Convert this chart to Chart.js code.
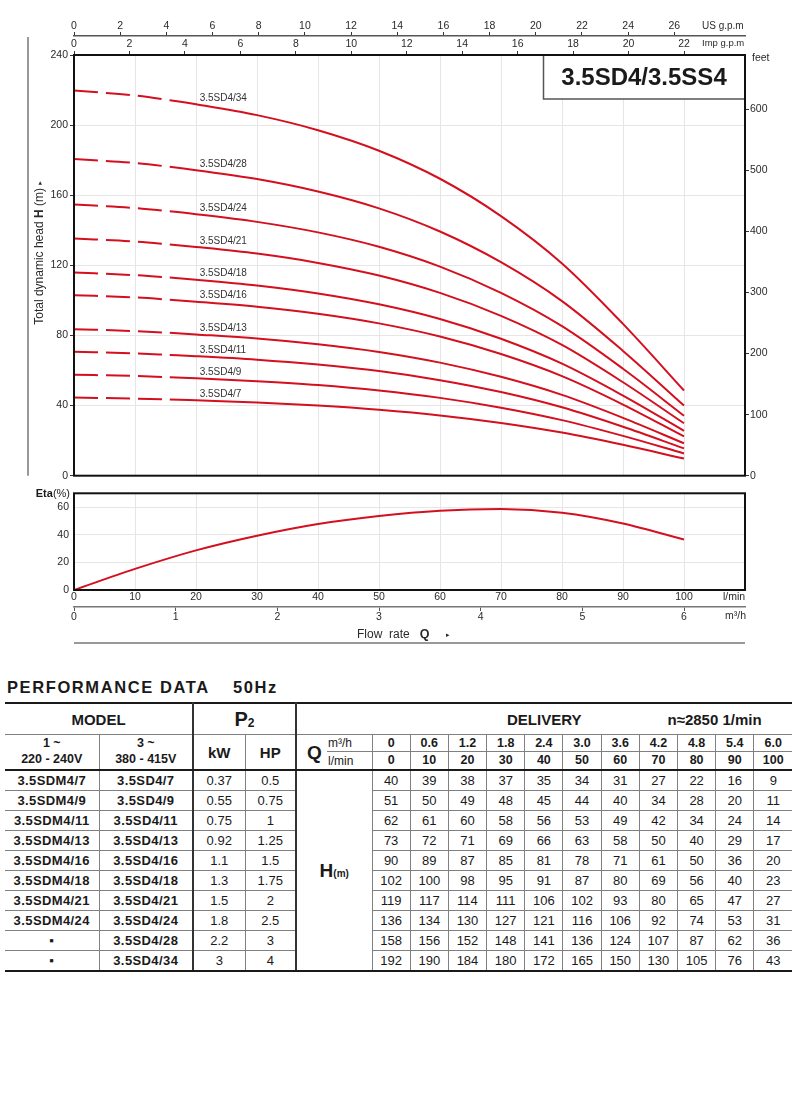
<!DOCTYPE html>
<html>
<head>
<meta charset="utf-8">
<title>3.5SD4 / 3.5SS4 performance curves</title>
<script src="https://cdn.jsdelivr.net/npm/chart.js@4.4.1/dist/chart.umd.min.js"></script>
<style>
  html, body { margin: 0; padding: 0; background: #fff; }
  #page { position: relative; width: 800px; height: 1094px; overflow: hidden;
          font-family: "Liberation Sans", Arial, sans-serif; color: #1a1a1a; }
  #headWrap { position: absolute; left: 0; top: 0; width: 800px; height: 484px; }
  #etaWrap { position: absolute; left: 0; top: 482px; width: 800px; height: 170px; }
  .perf-title { position: absolute; top: 679px; font-weight: bold; font-size: 16.5px;
                letter-spacing: 1.6px; line-height: 1; white-space: nowrap; }
  #perf { position: absolute; left: 5px; top: 702px; width: 787px; border-collapse: collapse;
          table-layout: fixed; color: #1a1a1a; }
  #perf td { border: 1px solid #808080; padding: 0; text-align: center; vertical-align: middle;
             white-space: nowrap; overflow: hidden; font-size: 13px; line-height: 1; }
  #perf tr.r1 td { border-top: 2px solid #1a1a1a; height: 30px; font-weight: bold; font-size: 15px; }
  #perf tr.r2 td { height: 16px; font-weight: bold; font-size: 12.5px; }
  #perf tr.r3 td { height: 17px; font-weight: bold; font-size: 12.5px; }
  #perf tr.r3 td, #perf tr.r2 td[rowspan] { border-bottom: 2px solid #1a1a1a; }
  #perf tr.dr td { height: 19px; }
  #perf tr td.m { font-weight: bold; letter-spacing: 0.4px; }
  #perf tr.last td, #perf tr td.hm { border-bottom: 2px solid #1a1a1a; }
  #perf tr td.sep { border-right: 2px solid #333; }
  #perf tr td.fc { border-left: none; }
  #perf tr td.lc { border-right: none; }
  #perf tr.r2 td.q { border-right-style: hidden; font-size: 19px; text-align: left; padding-left: 10px; }
  #perf tr td.unit { border-left-style: hidden; font-weight: normal; font-size: 12px; text-align: left; padding-left: 1px; }
  #perf tr td.deliv { text-align: left; }
  #perf tr td.hm { font-weight: bold; font-size: 19px; }
  #perf td.hm small { font-size: 10px; }
  #perf tr td.p2 { font-size: 20px; }
  #perf td.p2 sub { font-size: 12px; vertical-align: -1px; }
  #perf tr.r2 td.volt { font-weight: bold; font-size: 12.5px; line-height: 1.25; }
  #perf tr.r2 td.unitsz { font-size: 15px; }
</style>
</head>
<body>
<div id="page">
  <div id="headWrap"><canvas id="headChart" width="800" height="484"></canvas></div>
  <div id="etaWrap"><canvas id="etaChart" width="800" height="170"></canvas></div>
  <div class="perf-title" style="left:7px">PERFORMANCE DATA</div>
  <div class="perf-title" style="left:233px">50Hz</div>
  <table id="perf"></table>
</div>
<script>
// head curves, flow in l/min (the dashed part runs up to 15.7)
const flowLpm = [0, 10, 15.7, 20, 30, 40, 50, 60, 70, 80, 90, 100];
const head34 = [219.7, 216.9, 214.2, 211.9, 205.7, 197.1, 185.4, 169.4, 148.1, 121.1, 86.6, 48.6];
const head28 = [180.7, 178.4, 176.2, 174.3, 169.2, 162.1, 152.5, 139.3, 121.8, 99.6, 71.2, 40.0];
const head24 = [154.7, 152.7, 150.8, 149.2, 144.8, 138.8, 130.6, 119.3, 104.3, 85.3, 61.0, 34.2];
const head21 = [135.3, 133.6, 131.9, 130.5, 126.7, 121.4, 114.2, 104.3, 91.2, 74.6, 53.3, 29.9];
const head18 = [115.9, 114.4, 113.0, 111.8, 108.5, 104.0, 97.8, 89.4, 78.1, 63.9, 45.7, 25.6];
const head16 = [103.0, 101.7, 100.4, 99.3, 96.4, 92.4, 86.9, 79.4, 69.4, 56.8, 40.6, 22.4];
const head13 = [83.6, 82.5, 81.5, 80.6, 78.3, 75.0, 70.6, 64.5, 56.4, 46.1, 33.0, 18.5];
const head11 = [70.7, 69.8, 68.9, 68.2, 66.2, 63.4, 59.7, 54.5, 47.7, 39.0, 27.9, 15.6];
const head9 = [57.6, 56.9, 56.2, 55.6, 53.9, 51.7, 48.6, 44.4, 38.8, 31.7, 22.7, 12.7];
const head7 = [44.6, 44.0, 43.5, 43.0, 41.8, 40.0, 37.6, 34.4, 30.1, 24.6, 17.6, 9.8];
const curveNames = ['3.5SD4/34', '3.5SD4/28', '3.5SD4/24', '3.5SD4/21', '3.5SD4/18',
                    '3.5SD4/16', '3.5SD4/13', '3.5SD4/11', '3.5SD4/9', '3.5SD4/7'];
const curveHeads = [head34, head28, head24, head21, head18, head16, head13, head11, head9, head7];

// efficiency curve
const etaFlow = [0, 10, 20, 30, 40, 50, 60, 70, 80, 90, 100];
const etaPct = [0, 15.3, 28.7, 39.3, 47.8, 53.6, 57.4, 58.6, 56.0, 48.2, 36.5];

// axis ranges
const flowMax = 110, headMax = 240, feetMax = 689;
const usGpmMax = 29.06, impGpmMax = 24.2, m3hMax = 6.6, etaMax = 70;
const dashEnd = 15.7, labelFlow = 20.6;

// table
const modelSingle = ['3.5SDM4/7', '3.5SDM4/9', '3.5SDM4/11', '3.5SDM4/13', '3.5SDM4/16',
                     '3.5SDM4/18', '3.5SDM4/21', '3.5SDM4/24', '▪', '▪'];
const modelThree = ['3.5SD4/7', '3.5SD4/9', '3.5SD4/11', '3.5SD4/13', '3.5SD4/16',
                    '3.5SD4/18', '3.5SD4/21', '3.5SD4/24', '3.5SD4/28', '3.5SD4/34'];
const powerKw = ['0.37', '0.55', '0.75', '0.92', '1.1', '1.3', '1.5', '1.8', '2.2', '3'];
const powerHp = ['0.5', '0.75', '1', '1.25', '1.5', '1.75', '2', '2.5', '3', '4'];
const deliveryM3h = ['0', '0.6', '1.2', '1.8', '2.4', '3.0', '3.6', '4.2', '4.8', '5.4', '6.0'];
const deliveryLmin = ['0', '10', '20', '30', '40', '50', '60', '70', '80', '90', '100'];
const tableHead = [
  [40, 39, 38, 37, 35, 34, 31, 27, 22, 16, 9],
  [51, 50, 49, 48, 45, 44, 40, 34, 28, 20, 11],
  [62, 61, 60, 58, 56, 53, 49, 42, 34, 24, 14],
  [73, 72, 71, 69, 66, 63, 58, 50, 40, 29, 17],
  [90, 89, 87, 85, 81, 78, 71, 61, 50, 36, 20],
  [102, 100, 98, 95, 91, 87, 80, 69, 56, 40, 23],
  [119, 117, 114, 111, 106, 102, 93, 80, 65, 47, 27],
  [136, 134, 130, 127, 121, 116, 106, 92, 74, 53, 31],
  [158, 156, 152, 148, 141, 136, 124, 107, 87, 62, 36],
  [192, 190, 184, 180, 172, 165, 150, 130, 105, 76, 43]
];

const RED = '#d4101f';
const GRID = '#e6e6e6';
const FONT = '"Liberation Sans", Arial, sans-serif';
Chart.defaults.font.family = FONT;
Chart.defaults.font.size = 10.5;
Chart.defaults.color = '#2a2a2a';

function headAt(data, q) {
  for (let i = 1; i < data.length; i++) {
    if (data[i].x >= q) {
      const a = data[i - 1], b = data[i];
      return a.y + (b.y - a.y) * (q - a.x) / (b.x - a.x);
    }
  }
  return data[data.length - 1].y;
}

function upTo(limit) {
  return function (scale) { scale.ticks = scale.ticks.filter(t => t.value <= limit + 1e-9); };
}

// draws a row of text pieces with their own fonts, starting at x
function drawPieces(ctx, pieces, x, y) {
  pieces.forEach(p => {
    ctx.font = p.font;
    ctx.fillText(p.text, x, y);
    x += ctx.measureText(p.text).width;
  });
}
function piecesWidth(ctx, pieces) {
  return pieces.reduce((w, p) => { ctx.font = p.font; return w + ctx.measureText(p.text).width; }, 0);
}

const headDecor = {
  id: 'headDecor',
  afterDatasetsDraw(chart) {
    const { ctx, scales } = chart;
    ctx.save();
    ctx.font = '10px ' + FONT;
    ctx.fillStyle = '#333';
    ctx.textBaseline = 'middle';
    chart.data.datasets.forEach(ds => {
      const y = scales.y.getPixelForValue(headAt(ds.data, labelFlow));
      ctx.fillText(ds.label, scales.x.getPixelForValue(labelFlow), y - 6.5);
    });
    ctx.restore();
  },
  afterDraw(chart) {
    const { ctx, chartArea: a } = chart;
    ctx.save();
    // model box
    ctx.fillStyle = '#fff';
    ctx.fillRect(543, a.top, a.right - 543, 99 - a.top);
    ctx.strokeStyle = '#555';
    ctx.lineWidth = 1.5;
    ctx.beginPath();
    ctx.moveTo(543.5, a.top);
    ctx.lineTo(543.5, 99);
    ctx.lineTo(a.right, 99);
    ctx.stroke();
    ctx.fillStyle = '#1a1a1a';
    ctx.font = 'bold 24px ' + FONT;
    ctx.textAlign = 'center';
    ctx.textBaseline = 'middle';
    ctx.fillText('3.5SD4/3.5SS4', 644, 78);
    // frame
    ctx.strokeStyle = '#111';
    ctx.lineWidth = 2;
    ctx.strokeRect(a.left, a.top, a.right - a.left, a.bottom - a.top);
    // left rule
    ctx.strokeStyle = '#777';
    ctx.lineWidth = 1.5;
    ctx.beginPath();
    ctx.moveTo(28, 37);
    ctx.lineTo(28, a.bottom);
    ctx.stroke();
    // unit labels
    ctx.fillStyle = '#2a2a2a';
    ctx.textAlign = 'left';
    ctx.font = '10px ' + FONT;
    ctx.fillText('US g.p.m', 702, 26);
    ctx.font = '9.5px ' + FONT;
    ctx.fillText('Imp g.p.m', 702, 43);
    ctx.font = '10.5px ' + FONT;
    ctx.fillText('feet', 752, 58);
    // y title
    const title = [
      { text: 'Total dynamic head ', font: '12px ' + FONT },
      { text: 'H', font: 'bold 12px ' + FONT },
      { text: ' (m) ', font: '12px ' + FONT },
      { text: '▸', font: '7px "DejaVu Sans", sans-serif' }
    ];
    ctx.translate(40, 253);
    ctx.rotate(-Math.PI / 2);
    drawPieces(ctx, title, -piecesWidth(ctx, title) / 2, 0);
    ctx.restore();
  }
};

const etaDecor = {
  id: 'etaDecor',
  afterDraw(chart) {
    const { ctx, chartArea: a } = chart;
    ctx.save();
    ctx.strokeStyle = '#111';
    ctx.lineWidth = 2;
    ctx.strokeRect(a.left, a.top, a.right - a.left, a.bottom - a.top);
    ctx.fillStyle = '#1a1a1a';
    ctx.textBaseline = 'middle';
    const eta = [
      { text: 'Eta', font: 'bold 11px ' + FONT },
      { text: '(%)', font: '11px ' + FONT }
    ];
    drawPieces(ctx, eta, 70 - piecesWidth(ctx, eta), a.top + 1);
    ctx.fillStyle = '#2a2a2a';
    ctx.font = '10.5px ' + FONT;
    ctx.fillText('l/min', 723, 115);
    ctx.fillText('m³/h', 725, 134);
    drawPieces(ctx, [
      { text: 'Flow  rate', font: '12px ' + FONT },
      { text: '   ', font: '12px ' + FONT },
      { text: 'Q', font: 'bold 12.5px ' + FONT },
      { text: '     ', font: '12px ' + FONT },
      { text: '▸', font: '7px "DejaVu Sans", sans-serif' }
    ], 357, 153);
    ctx.strokeStyle = '#777';
    ctx.lineWidth = 1.5;
    ctx.beginPath();
    ctx.moveTo(a.left, 161);
    ctx.lineTo(a.right, 161);
    ctx.stroke();
    ctx.restore();
  }
};

new Chart(document.getElementById('headChart'), {
  type: 'line',
  data: {
    datasets: curveNames.map((name, i) => ({
      label: name,
      data: flowLpm.map((q, j) => ({ x: q, y: curveHeads[i][j] })),
      borderColor: RED,
      borderWidth: 2,
      pointRadius: 0,
      cubicInterpolationMode: 'monotone',
      segment: { borderDash: ctx => ctx.p1.parsed.x <= dashEnd ? [24, 8] : undefined }
    }))
  },
  options: {
    responsive: false,
    animation: false,
    layout: { padding: 0 },
    plugins: { legend: { display: false }, tooltip: { enabled: false } },
    scales: {
      x: {
        type: 'linear', position: 'bottom', min: 0, max: flowMax,
        ticks: { display: false, stepSize: 10 },
        grid: { color: GRID, drawTicks: false },
        border: { display: false },
        afterFit: s => { s.height = 8; }
      },
      xImp: {
        type: 'linear', position: 'top', weight: 0, min: 0, max: impGpmMax,
        ticks: { stepSize: 2, includeBounds: false, autoSkip: false, maxRotation: 0, padding: 1 },
        grid: { drawOnChartArea: false, tickLength: 4, tickColor: '#333' },
        border: { display: false },
        afterBuildTicks: upTo(22),
        afterFit: s => { s.height = 19; }
      },
      xUS: {
        type: 'linear', position: 'top', weight: 1, min: 0, max: usGpmMax,
        ticks: { stepSize: 2, includeBounds: false, autoSkip: false, maxRotation: 0, padding: 0 },
        grid: { drawOnChartArea: false, tickLength: 4, tickColor: '#333' },
        border: { display: true, color: '#555', width: 1.5 },
        afterBuildTicks: upTo(26),
        afterFit: s => { s.height = 36; }
      },
      y: {
        type: 'linear', position: 'left', min: 0, max: headMax,
        ticks: { stepSize: 40, padding: 2 },
        grid: { color: GRID, tickLength: 4, tickColor: '#333' },
        border: { display: false },
        afterFit: s => { s.width = 74; }
      },
      yFeet: {
        type: 'linear', position: 'right', min: 0, max: feetMax,
        ticks: { stepSize: 100, includeBounds: false, padding: 1 },
        grid: { drawOnChartArea: false, tickLength: 4, tickColor: '#333' },
        border: { display: false },
        afterBuildTicks: upTo(600),
        afterFit: s => { s.width = 55; }
      }
    }
  },
  plugins: [headDecor]
});

new Chart(document.getElementById('etaChart'), {
  type: 'line',
  data: {
    datasets: [{
      label: 'Eta',
      data: etaFlow.map((q, j) => ({ x: q, y: etaPct[j] })),
      borderColor: RED,
      borderWidth: 2,
      pointRadius: 0,
      cubicInterpolationMode: 'monotone'
    }]
  },
  options: {
    responsive: false,
    animation: false,
    layout: { padding: { top: 8, right: 55, bottom: 25, left: 0 } },
    plugins: { legend: { display: false }, tooltip: { enabled: false } },
    scales: {
      x: {
        type: 'linear', position: 'bottom', weight: 0, min: 0, max: flowMax,
        ticks: { stepSize: 10, includeBounds: false, autoSkip: false, maxRotation: 0, padding: 1 },
        grid: { color: GRID, drawTicks: false },
        border: { display: false },
        afterBuildTicks: upTo(100),
        afterFit: s => { s.height = 17; }
      },
      xM3: {
        type: 'linear', position: 'bottom', weight: 1, min: 0, max: m3hMax,
        ticks: { stepSize: 1, includeBounds: false, autoSkip: false, maxRotation: 0, padding: 0 },
        grid: { drawOnChartArea: false, tickLength: 4, tickColor: '#555' },
        border: { display: true, color: '#777', width: 1.5 },
        afterBuildTicks: upTo(6),
        afterFit: s => { s.height = 20; }
      },
      y: {
        type: 'linear', position: 'left', min: 0, max: etaMax,
        ticks: { stepSize: 10, padding: 5, callback: v => (v % 20 === 0 ? v : '') },
        grid: { color: GRID, drawTicks: false },
        border: { display: false },
        afterFit: s => { s.width = 74; }
      }
    }
  },
  plugins: [etaDecor]
});

// performance table
(function buildTable() {
  const widths = [94, 94, 52, 51, 31, 45];
  deliveryLmin.forEach(() => widths.push(38.2));
  let html = '<colgroup>' + widths.map(w => '<col style="width:' + w + 'px">').join('') + '</colgroup>';
  html += '<tr class="r1"><td colspan="2" class="fc sep">MODEL</td>' +
          '<td colspan="2" class="sep p2">P<sub>2</sub></td>' +
          '<td colspan="13" class="deliv lc"><span style="margin-left:210px">DELIVERY</span>' +
          '<span style="margin-left:86px">n≈2850 1/min</span></td></tr>';
  html += '<tr class="r2"><td rowspan="2" class="fc volt">1 ~<br>220 - 240V</td>' +
          '<td rowspan="2" class="sep volt">3 ~<br>380 - 415V</td>' +
          '<td rowspan="2" class="unitsz">kW</td>' +
          '<td rowspan="2" class="sep unitsz">HP</td>' +
          '<td rowspan="2" class="q">Q</td><td class="unit">m³/h</td>' +
          deliveryM3h.map((v, i) => '<td' + (i === deliveryM3h.length - 1 ? ' class="lc"' : '') + '>' + v + '</td>').join('') + '</tr>';
  html += '<tr class="r3"><td class="unit">l/min</td>' +
          deliveryLmin.map((v, i) => '<td' + (i === deliveryLmin.length - 1 ? ' class="lc"' : '') + '>' + v + '</td>').join('') + '</tr>';
  tableHead.forEach((row, r) => {
    html += '<tr class="dr' + (r === tableHead.length - 1 ? ' last' : '') + '">';
    html += '<td class="fc m">' + modelSingle[r] + '</td>';
    html += '<td class="sep m">' + modelThree[r] + '</td>';
    html += '<td>' + powerKw[r] + '</td>';
    html += '<td class="sep">' + powerHp[r] + '</td>';
    if (r === 0) html += '<td rowspan="' + tableHead.length + '" colspan="2" class="hm">H<small>(m)</small></td>';
    html += row.map((v, i) => '<td' + (i === row.length - 1 ? ' class="lc"' : '') + '>' + v + '</td>').join('');
    html += '</tr>';
  });
  document.getElementById('perf').innerHTML = html;
})();
</script>
</body>
</html>
